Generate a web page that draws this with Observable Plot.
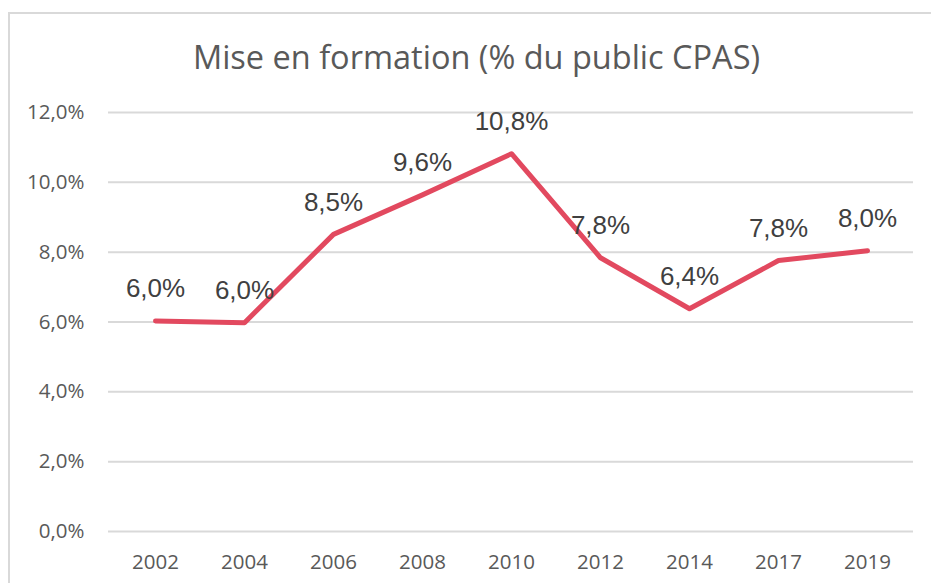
<!DOCTYPE html>
<html>
<head>
<meta charset="utf-8">
<script src="https://cdn.jsdelivr.net/npm/d3@7"></script>
<script src="https://cdn.jsdelivr.net/npm/@observablehq/plot@0.6"></script>
<style>
  html, body { margin: 0; padding: 0; background: #fff; }
  #wrap { position: relative; width: 931px; height: 583px; overflow: hidden; }
  #frame { position: absolute; left: 8px; top: 12px; width: 1000px; height: 700px;
           border-left: 2px solid #d9d9d9; border-top: 2px solid #d9d9d9; box-sizing: border-box; }
  #title { position: absolute; left: 0; top: 34px; width: 953px; text-align: center;
           font-family: "Open Sans", sans-serif; font-size: 32.5px; color: #595959; line-height: 46px; }
  #chart { position: absolute; left: 0; top: 0; }
</style>
</head>
<body>
<div id="wrap">
  <div id="frame"></div>
  <div id="chart"></div>
  <div id="title">Mise en formation (% du public CPAS)</div>
</div>
<script>
const years = ["2002", "2004", "2006", "2008", "2010", "2012", "2014", "2017", "2019"];
const values = [6.03, 5.98, 8.51, 9.64, 10.82, 7.84, 6.38, 7.76, 8.04];
const yTicks = [0, 2, 4, 6, 8, 10, 12];

const fmt = v => d3.format(".1f")(v).replace(".", ",") + "%";
const data = years.map((y, i) => ({year: y, value: values[i]}));

const chart = Plot.plot({
  width: 931,
  height: 583,
  marginTop: 112,
  marginBottom: 52,
  marginLeft: 108,
  marginRight: 18,
  style: {background: "transparent", overflow: "visible"},
  x: {type: "point", domain: years, padding: 0.5, label: null},
  y: {domain: [0, 12], label: null},
  marks: [
    Plot.gridY(yTicks, {stroke: "#d9d9d9", strokeOpacity: 1, strokeWidth: 2}),
    Plot.axisY({ticks: yTicks, tickFormat: fmt, tickSize: 0, tickPadding: 24,
      fontSize: 20.5, fontFamily: "Open Sans", fill: "#595959", label: null}),
    Plot.axisX({tickSize: 0, tickPadding: 23, fontSize: 20.5, fontFamily: "Open Sans",
      fill: "#595959", label: null}),
    Plot.line(data, {x: "year", y: "value", stroke: "#E2495F", strokeWidth: 5,
      strokeLinejoin: "round", strokeLinecap: "round"}),
    Plot.text(data, {x: "year", y: "value", text: d => fmt(d.value), dy: -32,
      fontSize: 26, fontFamily: "Liberation Sans", fill: "#404040"})
  ]
});
document.getElementById("chart").appendChild(chart);
</script>
</body>
</html>
